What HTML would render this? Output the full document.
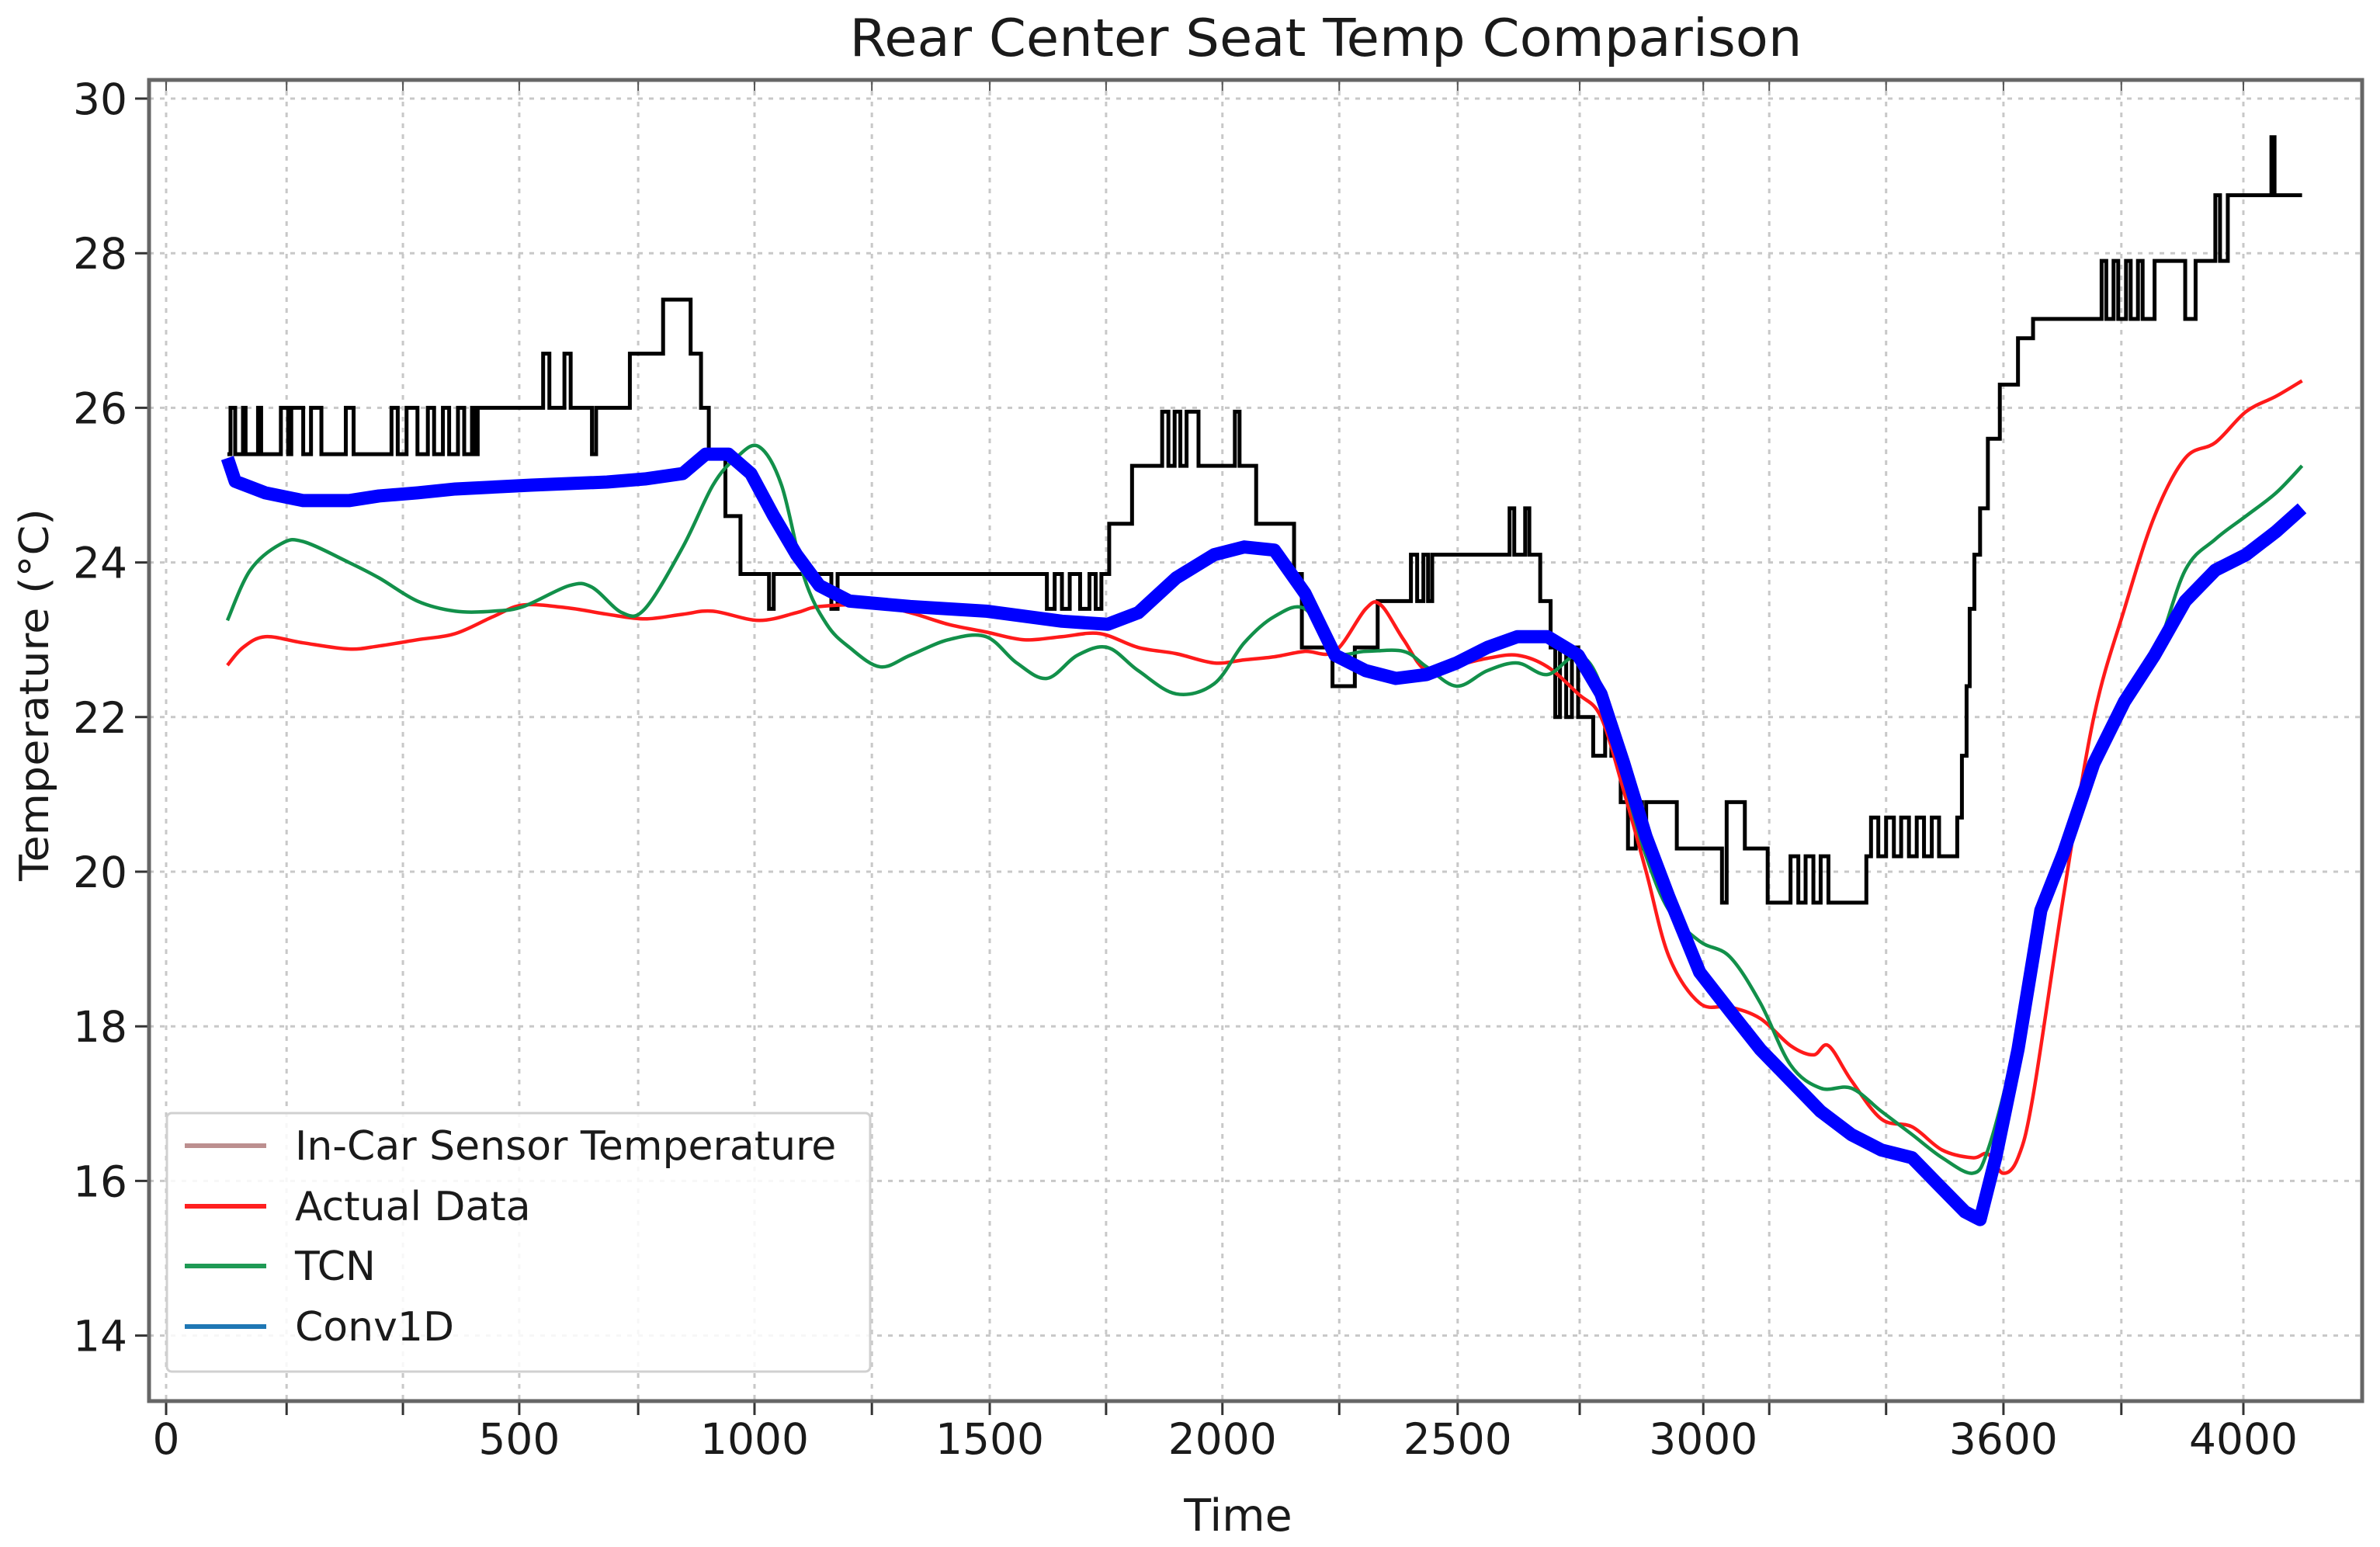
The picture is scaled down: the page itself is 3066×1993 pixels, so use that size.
<!DOCTYPE html>
<html><head><meta charset="utf-8">
<style>
html,body{margin:0;padding:0;background:#fff;}
svg{display:block;}
text{font-family:"DejaVu Sans","Liberation Sans",sans-serif;fill:#1a1a1a;}
</style></head>
<body>
<svg id="chart" width="3066" height="1993" viewBox="0 0 3066 1993" xmlns="http://www.w3.org/2000/svg">
<rect x="0" y="0" width="3066" height="1993" fill="#fff"/>
<text x="1708" y="72" font-size="67" text-anchor="middle" textLength="1227" lengthAdjust="spacingAndGlyphs">Rear Center Seat Temp Comparison</text>
<g id="grid"></g>
<g id="series"></g>
<g id="axes"></g>
<text x="1595" y="1972" font-size="57" text-anchor="middle">Time</text>
<text transform="translate(62,895) rotate(-90)" font-size="52" text-anchor="middle" textLength="480" lengthAdjust="spacingAndGlyphs">Temperature (°C)</text>
<g id="legend"></g>
</svg>
<script>
// ---- data ----
const xTickValues = [0,232,456,680,909,1133,1359,1586,1810,2034,2259,2487,2722,2960,3087,3312,3538,3765,4000];
const xLabelValues = [0,680,1133,1586,2034,2487,2960,3538,4000];
const xLabelTexts = ["0","500","1000","1500","2000","2500","3000","3600","4000"];
const yTickValues = [14,16,18,20,22,24,26,28,30];

const sensorT = [118,124,133,148,153,177,183,221,235,241,264,279,299,346,361,434,446,463,484,504,516,533,545,562,574,589,595,600,726,738,767,779,820,828,893,957,1010,1030,1045,1077,1106,1161,1170,1281,1293,1696,1711,1725,1740,1760,1778,1790,1801,1816,1860,1918,1930,1942,1953,1965,1988,2058,2067,2099,2172,2187,2246,2289,2333,2397,2409,2421,2430,2438,2587,2596,2617,2625,2646,2666,2675,2684,2696,2707,2719,2748,2771,2783,2801,2815,2830,2842,2850,2909,2996,3005,3040,3084,3128,3143,3157,3172,3186,3201,3274,3283,3297,3312,3327,3341,3356,3371,3385,3400,3414,3449,3458,3467,3473,3482,3493,3508,3531,3566,3595,3727,3736,3750,3759,3774,3783,3797,3806,3829,3888,3908,3946,3955,3970,4054,4060,4113];
const sensorV = [25.4,26.0,25.4,26.0,25.4,26.0,25.4,26.0,25.4,26.0,25.4,26.0,25.4,26.0,25.4,26.0,25.4,26.0,25.4,26.0,25.4,26.0,25.4,26.0,25.4,26.0,25.4,26.0,26.7,26.0,26.7,26.0,25.4,26.0,26.7,27.4,26.7,26.0,25.4,24.6,23.85,23.4,23.85,23.4,23.85,23.4,23.85,23.4,23.85,23.4,23.85,23.4,23.85,24.5,25.25,25.95,25.25,25.95,25.25,25.95,25.25,25.95,25.25,24.5,23.85,22.9,22.4,22.9,23.5,24.1,23.5,24.1,23.5,24.1,24.7,24.1,24.7,24.1,23.5,22.9,22.0,22.9,22.0,22.9,22.0,21.5,22.0,21.5,20.9,20.3,20.9,20.3,20.9,20.3,19.6,20.9,20.3,19.6,20.2,19.6,20.2,19.6,20.2,19.6,20.2,20.7,20.2,20.7,20.2,20.7,20.2,20.7,20.2,20.7,20.2,20.7,21.5,22.4,23.4,24.1,24.7,25.6,26.3,26.9,27.15,27.9,27.15,27.9,27.15,27.9,27.15,27.9,27.15,27.9,27.15,27.9,28.75,27.9,28.75,29.5,28.75,28.75];

const actualT = [118,148,191,264,352,410,484,557,630,688,776,849,922,995,1053,1141,1214,1258,1360,1433,1506,1579,1652,1725,1798,1872,1945,2018,2076,2134,2193,2251,2310,2339,2383,2427,2485,2544,2602,2660,2719,2763,2807,2850,2894,2953,3011,3070,3128,3172,3201,3245,3303,3362,3420,3479,3508,3537,3566,3595,3654,3712,3771,3829,3888,3946,4005,4063,4113];
const actualV = [22.67,22.9,23.04,22.96,22.88,22.92,23.0,23.08,23.3,23.45,23.41,23.33,23.27,23.33,23.37,23.25,23.35,23.43,23.45,23.35,23.2,23.1,23.0,23.04,23.08,22.9,22.82,22.7,22.74,22.78,22.85,22.85,23.4,23.45,23.0,22.6,22.67,22.76,22.8,22.65,22.3,22.0,21.04,20.0,18.9,18.3,18.25,18.1,17.75,17.63,17.75,17.3,16.8,16.7,16.4,16.3,16.35,16.1,16.3,17.1,19.7,22.0,23.4,24.6,25.35,25.55,25.95,26.15,26.35];

const tcnT = [118,162,221,264,352,410,484,557,630,688,776,820,878,922,995,1053,1097,1141,1185,1229,1272,1316,1375,1433,1506,1579,1638,1696,1755,1813,1872,1945,2018,2076,2134,2193,2251,2310,2383,2427,2485,2544,2602,2660,2719,2763,2807,2850,2894,2953,3011,3070,3128,3186,3245,3303,3362,3420,3479,3508,3552,3610,3683,3756,3829,3888,3946,4005,4063,4113];
const tcnV = [23.25,23.9,24.24,24.27,24.0,23.8,23.5,23.37,23.37,23.43,23.7,23.68,23.35,23.4,24.2,25.0,25.35,25.5,25.0,23.8,23.2,22.9,22.65,22.8,23.0,23.04,22.7,22.5,22.8,22.9,22.6,22.3,22.43,22.96,23.3,23.4,22.85,22.85,22.85,22.65,22.4,22.6,22.7,22.55,22.8,22.4,21.2,20.2,19.5,19.1,18.9,18.3,17.5,17.2,17.2,16.9,16.6,16.3,16.1,16.4,17.5,19.3,21.0,22.0,22.8,23.9,24.3,24.6,24.9,25.25];

const convT = [118,133,191,264,352,410,484,557,703,849,922,995,1039,1083,1126,1170,1214,1258,1316,1433,1579,1725,1813,1872,1945,2018,2076,2134,2193,2251,2310,2368,2427,2485,2544,2602,2660,2719,2763,2807,2850,2894,2953,3011,3070,3128,3186,3245,3303,3362,3420,3464,3493,3523,3566,3610,3654,3712,3771,3829,3888,3946,4005,4063,4113];
const convV = [25.35,25.05,24.9,24.8,24.8,24.86,24.9,24.95,25.0,25.04,25.08,25.15,25.4,25.4,25.15,24.6,24.1,23.7,23.5,23.43,23.37,23.24,23.2,23.35,23.8,24.1,24.2,24.16,23.6,22.8,22.6,22.5,22.55,22.7,22.9,23.04,23.04,22.8,22.3,21.4,20.45,19.67,18.7,18.2,17.7,17.3,16.9,16.6,16.4,16.3,15.9,15.6,15.5,16.3,17.7,19.5,20.25,21.4,22.2,22.8,23.5,23.9,24.1,24.4,24.7];

const legendLabels = ["In-Car Sensor Temperature","Actual Data","TCN","Conv1D"];
const legendColors = ["#bc8f8f","#ff2020","#1f9a55","#1f77b4"];

// ---- layout ----
const L=192, R=3043, T=103, B=1805;
function xs(t){ return 214 + t*0.669; }
function ys(v){ return 127 + (30 - v)*99.6; }
const NS='http://www.w3.org/2000/svg';
function mk(tag, parent){ const e=document.createElementNS(NS,tag); parent.appendChild(e); return e; }
const grid=document.getElementById('grid'), axes=document.getElementById('axes'), series=document.getElementById('series'), legend=document.getElementById('legend');

xTickValues.forEach(function(t){
  const g=mk('line',grid);
  
  
  g.setAttribute('x1',xs(t)); g.setAttribute('x2',xs(t)); g.setAttribute('y1',T); g.setAttribute('y2',B);
  g.setAttribute('stroke','#c8c8c8'); g.setAttribute('stroke-width','3'); g.setAttribute('stroke-dasharray','6,8');
  const tk=mk('line',axes);
  
  
  tk.setAttribute('x1',xs(t)); tk.setAttribute('x2',xs(t)); tk.setAttribute('y1',B); tk.setAttribute('y2',B+18);
  tk.setAttribute('stroke','#333'); tk.setAttribute('stroke-width','3');
  const tt=mk('line',axes);
  
  
  tt.setAttribute('x1',xs(t)); tt.setAttribute('x2',xs(t)); tt.setAttribute('y1',T); tt.setAttribute('y2',T+14);
  tt.setAttribute('stroke','#555'); tt.setAttribute('stroke-width','2');
});
xLabelValues.forEach(function(t,i){
  const tx=mk('text',axes);
  
  
  tx.setAttribute('x',xs(t)); tx.setAttribute('y',1873); tx.setAttribute('font-size','55'); tx.setAttribute('text-anchor','middle');
  tx.textContent=xLabelTexts[i];
});
yTickValues.forEach(function(v){
  const g=mk('line',grid);
  
  
  g.setAttribute('x1',L); g.setAttribute('x2',R); g.setAttribute('y1',ys(v)); g.setAttribute('y2',ys(v));
  g.setAttribute('stroke','#c8c8c8'); g.setAttribute('stroke-width','3'); g.setAttribute('stroke-dasharray','6,8');
  const tk=mk('line',axes);
  
  
  tk.setAttribute('x1',L-18); tk.setAttribute('x2',L); tk.setAttribute('y1',ys(v)); tk.setAttribute('y2',ys(v));
  tk.setAttribute('stroke','#333'); tk.setAttribute('stroke-width','3');
  const tx=mk('text',axes);
  
  
  tx.setAttribute('x',164); tx.setAttribute('y',ys(v)+20); tx.setAttribute('font-size','55'); tx.setAttribute('text-anchor','end');
  tx.textContent=String(v);
});
const frame=mk('rect',axes);


frame.setAttribute('x',L); frame.setAttribute('y',T); frame.setAttribute('width',R-L); frame.setAttribute('height',B-T);
frame.setAttribute('fill','none'); frame.setAttribute('stroke','#666'); frame.setAttribute('stroke-width','5');

function stepPath(ts,vs){
  let d='M'+xs(ts[0])+','+ys(vs[0]);
  for(let i=1;i<ts.length;i++){ d+=' H'+xs(ts[i])+' V'+ys(vs[i]); }
  return d;
}
function linePath(ts,vs){
  return ts.map(function(t,i){return (i?'L':'M')+xs(t)+','+ys(vs[i]);}).join(' ');
}
function smoothPath(ts,vs){
  const p=ts.map(function(t,i){return [xs(t),ys(vs[i])];});
  let d='M'+p[0][0]+','+p[0][1];
  for(let i=0;i<p.length-1;i++){
    const p0=p[i-1]||p[i], p1=p[i], p2=p[i+1], p3=p[i+2]||p[i+1];
    const c1x=p1[0]+(p2[0]-p0[0])/6, c1y=p1[1]+(p2[1]-p0[1])/6;
    const c2x=p2[0]-(p3[0]-p1[0])/6, c2y=p2[1]-(p3[1]-p1[1])/6;
    d+=' C'+c1x+','+c1y+' '+c2x+','+c2y+' '+p2[0]+','+p2[1];
  }
  return d;
}
const sp=mk('path',series);


sp.setAttribute('d',stepPath(sensorT,sensorV)); sp.setAttribute('fill','none'); sp.setAttribute('stroke','#000'); sp.setAttribute('stroke-width','5');
const ap=mk('path',series);


ap.setAttribute('d',smoothPath(actualT,actualV)); ap.setAttribute('fill','none'); ap.setAttribute('stroke','#ff1a1a'); ap.setAttribute('stroke-width','4.5');
const tp=mk('path',series);


tp.setAttribute('d',smoothPath(tcnT,tcnV)); tp.setAttribute('fill','none'); tp.setAttribute('stroke','#12904a'); tp.setAttribute('stroke-width','4.5');
const cp=mk('path',series);


cp.setAttribute('d',linePath(convT,convV)); cp.setAttribute('fill','none'); cp.setAttribute('stroke','#0000ff'); cp.setAttribute('stroke-width','17'); cp.setAttribute('stroke-linejoin','round');

const lb=mk('rect',legend);


lb.setAttribute('x',215); lb.setAttribute('y',1434); lb.setAttribute('width',906); lb.setAttribute('height',333);
lb.setAttribute('fill','#fff'); lb.setAttribute('fill-opacity','0.85'); lb.setAttribute('stroke','#d0d0d0'); lb.setAttribute('stroke-width','3'); lb.setAttribute('rx','6');
const legendY=[1476,1554,1631,1709];
legendLabels.forEach(function(s,i){
  const ln=mk('line',legend);
  
  
  ln.setAttribute('x1',238); ln.setAttribute('x2',343); ln.setAttribute('y1',legendY[i]); ln.setAttribute('y2',legendY[i]);
  ln.setAttribute('stroke',legendColors[i]); ln.setAttribute('stroke-width','6');
  const tx=mk('text',legend);
  
  
  tx.setAttribute('x',380); tx.setAttribute('y',legendY[i]+18); tx.setAttribute('font-size','52');
  tx.textContent=s;
});
</script>
</body></html>
